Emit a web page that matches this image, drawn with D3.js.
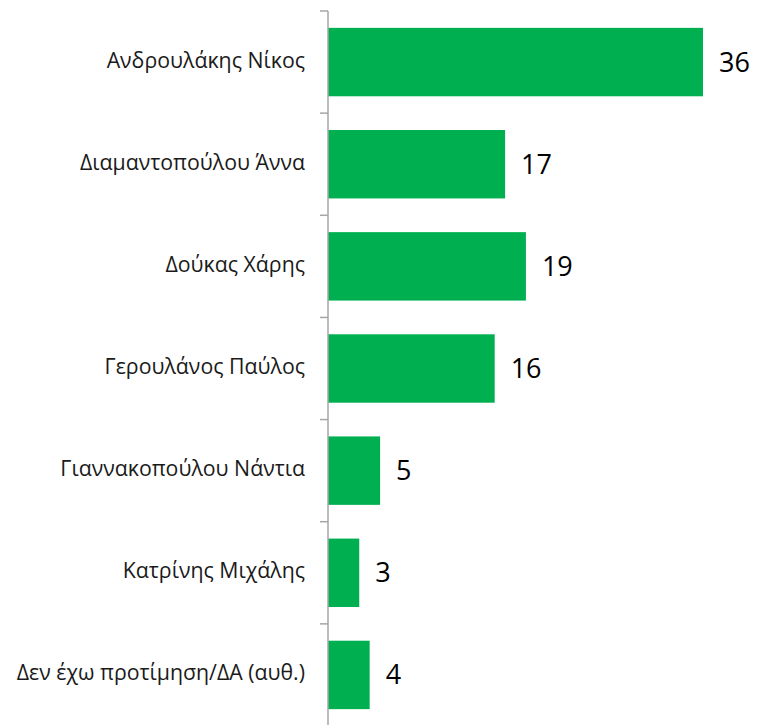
<!DOCTYPE html>
<html lang="el">
<head>
    <meta charset="UTF-8">
    <title>Προτίμηση</title>
    <style>
        body { margin: 0; background: #fff; }
        .cat { font-family: "Open Sans", sans-serif; font-size: 21.3px; fill: #1a1a1a; }
        .val { font-family: "Open Sans", sans-serif; font-size: 27px; fill: #000; }
    </style>
</head>
<body>
    <svg id="chart" width="760" height="725"></svg>
    <script src="https://d3js.org/d3.v7.min.js"></script>
    <script>
        var categories = [
            "Ανδρουλάκης Νίκος",
            "Διαμαντοπούλου Άννα",
            "Δούκας Χάρης",
            "Γερουλάνος Παύλος",
            "Γιαννακοπούλου Νάντια",
            "Κατρίνης Μιχάλης",
            "Δεν έχω προτίμηση/ΔΑ (αυθ.)"
        ];
        var values = [36, 17, 19, 16, 5, 3, 4];

        var svg = d3.select("#chart");
        var x0 = 328;

        var x = d3.scaleLinear()
                  .domain([0, 36])
                  .range([x0, 703]);
        var y = d3.scaleBand()
                  .domain(categories)
                  .range([11, 726])
                  .paddingInner(0.33)
                  .paddingOuter(0.165);

        var data = categories.map((c, i) => ({ name: c, value: values[i] }));

        svg.selectAll("rect.bar")
           .data(data)
           .enter()
           .append("rect")
           .attr("class", "bar")
           .attr("x", x0)
           .attr("y", d => y(d.name))
           .attr("width", d => x(d.value) - x0)
           .attr("height", y.bandwidth())
           .attr("fill", "#00b050");

        // category axis with ticks between bands
        var step = y.step();
        var start = 11;
        svg.append("line")
           .attr("x1", x0).attr("x2", x0)
           .attr("y1", start).attr("y2", 725)
           .attr("stroke", "#a6a6a6").attr("stroke-width", 1.5);
        d3.range(categories.length).forEach(i => {
            var ty = start + i * step;
            svg.append("line")
               .attr("x1", x0 - 8).attr("x2", x0)
               .attr("y1", ty).attr("y2", ty)
               .attr("stroke", "#a6a6a6").attr("stroke-width", 1.5);
        });

        svg.selectAll("text.cat")
           .data(data)
           .enter()
           .append("text")
           .attr("class", "cat")
           .attr("x", 305)
           .attr("y", d => y(d.name) + y.bandwidth() / 2 - 2)
           .attr("dy", "0.35em")
           .attr("text-anchor", "end")
           .text(d => d.name);

        svg.selectAll("text.val")
           .data(data)
           .enter()
           .append("text")
           .attr("class", "val")
           .attr("x", d => x(d.value) + 16)
           .attr("y", d => y(d.name) + y.bandwidth() / 2)
           .attr("dy", "0.35em")
           .text(d => d.value);
    </script>
</body>
</html>
